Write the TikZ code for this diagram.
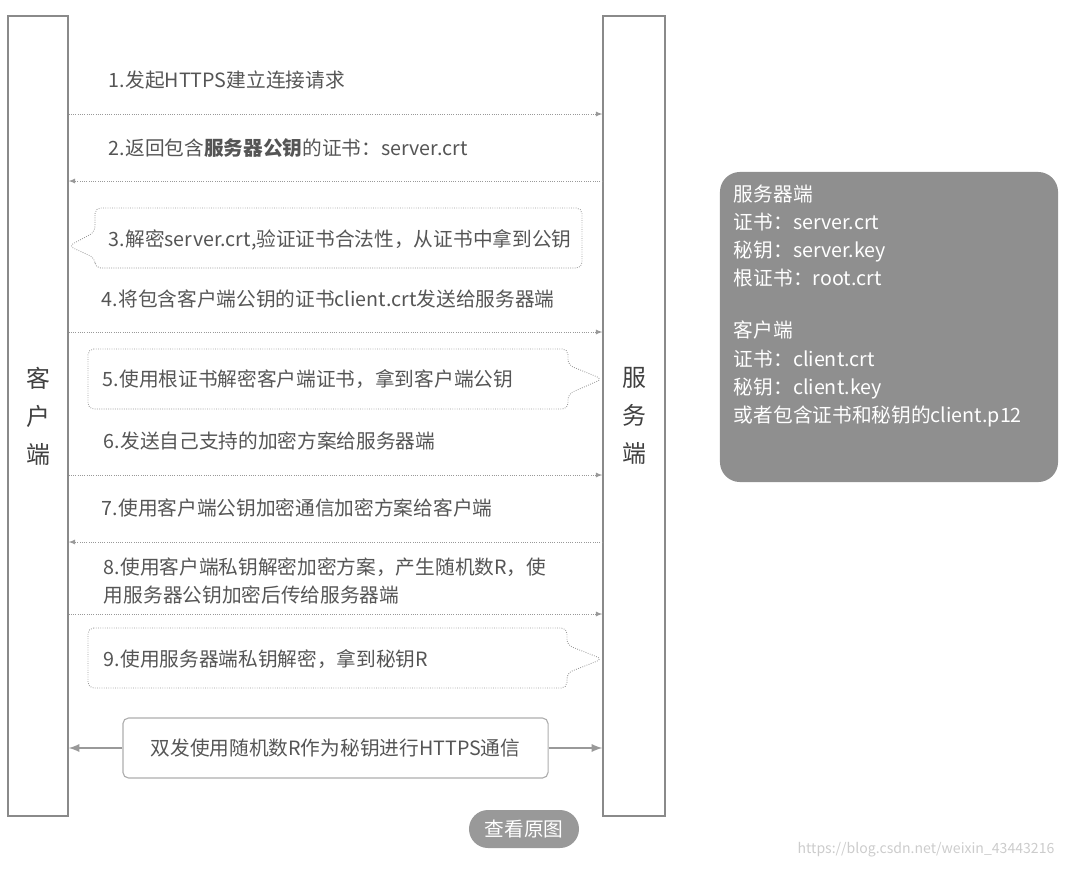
\documentclass[tikz,border=0pt]{standalone}
\usepackage{fontspec}
\setmainfont{Noto Sans CJK SC}
\usetikzlibrary{positioning}

\definecolor{txtgray}{HTML}{555555}
\definecolor{linegray}{HTML}{999999}
\definecolor{bargray}{HTML}{8A8A8A}
\definecolor{notegray}{HTML}{8F8F8F}

\begin{document}
\begin{tikzpicture}[
        x=0.025cm, y=-0.025cm,
        every node/.style={text=txtgray, font=\fontsize{14}{19.5}\selectfont},
        bar/.style={draw=bargray, line width=0.9pt, inner sep=0pt, minimum height=20cm, align=center,
                    font=\fontsize{17}{27}\selectfont, text=black!75},
        msgtext/.style={anchor=west, align=left},
        msg/.style={draw=linegray, line width=0.6pt, densely dotted, -latex},
        callout/.style={draw=linegray, line width=0.6pt, densely dotted, rounded corners=4pt},
        bothway/.style={draw=linegray, line width=1.6pt, -latex}
    ]
 \useasboundingbox (0,0) rectangle (1070,868);
 % lifelines
 \node[bar, minimum width=1.5cm] (client) at (38,416) {客\\户\\端};
 \node[bar, minimum width=1.55cm] (server) at (634,416) {服\\务\\端};
 % messages
 \node[msgtext] (m1) at (104,80) {1.发起HTTPS建立连接请求};
 \node[msgtext] (m2) at (104,148) {2.返回包含\textbf{服务器公钥}的证书：server.crt};
 \node[msgtext] (m3) at (104,240) {3.解密server.crt,验证证书合法性，从证书中拿到公钥};
 \node[msgtext] (m4) at (97,299) {4.将包含客户端公钥的证书client.crt发送给服务器端};
 \node[msgtext] (m5) at (98,379) {5.使用根证书解密客户端证书，拿到客户端公钥};
 \node[msgtext] (m6) at (99,441) {6.发送自己支持的加密方案给服务器端};
 \node[msgtext] (m7) at (97,508) {7.使用客户端公钥加密通信加密方案给客户端};
 \node[msgtext] (m8) at (99,581) {8.使用客户端私钥解密加密方案，产生随机数R，使\\用服务器公钥加密后传给服务器端};
 \node[msgtext] (m9) at (99,659) {9.使用服务器端私钥解密，拿到秘钥R};
 \foreach \y in {114,332,475,614}
    \draw[msg] (client.east |- 0,\y) -- (server.west |- 0,\y);
 \foreach \y in {181,542}
    \draw[msg] (server.west |- 0,\y) -- (client.east |- 0,\y);
 % callouts
 \draw[callout] (582,208) -- (95,208) -- (95,232) -- (client.east |- 0,246) -- (95,258) -- (95,268) -- (582,268) -- cycle;
 \draw[callout] (88,349) -- (568,349) -- (568,365) -- (server.west |- 0,379) -- (568,394) -- (568,409) -- (88,409) -- cycle;
 \draw[callout] (88,628) -- (567,628) -- (567,645) -- (server.west |- 0,659) -- (567,673) -- (567,688) -- (88,688) -- cycle;
 % shared key
 \node[draw=linegray!80, line width=0.8pt, rounded corners=4pt, minimum width=10.625cm, minimum height=1.5cm] (final) at (335.5,748) {双发使用随机数R作为秘钥进行HTTPS通信};
 \draw[bothway] (final.west) -- (client.east |- final.west);
 \draw[bothway] (final.east) -- (server.west |- final.east);
 % certificates note
 \node[fill=notegray, rounded corners=0.5cm, minimum width=8.45cm, minimum height=7.75cm] (note) at (889,327) {};
 \node[anchor=north west, align=left, text=white, font=\fontsize{14}{20}\selectfont] (notetext) at (729,180)
    {服务器端\\证书：server.crt\\秘钥：server.key\\根证书：root.crt\\[17pt]客户端\\证书：client.crt\\秘钥：client.key\\或者包含证书和秘钥的client.p12};
 % page overlay
 \node[fill=linegray, text=white, rounded corners=0.475cm, minimum width=2.75cm, minimum height=0.95cm] (viewbtn) at (524,829) {查看原图};
 \node[text=black!20, font=\fontsize{10}{12}\selectfont] (mark) at (926,850) {https://blog.csdn.net/weixin\_43443216};
\end{tikzpicture}
\end{document}
